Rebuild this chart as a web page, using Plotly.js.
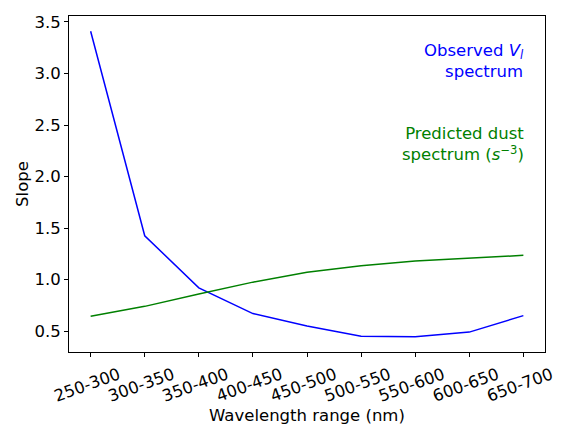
<!DOCTYPE html>
<html>
<head>
<meta charset="utf-8">
<script src="https://cdn.plot.ly/plotly-3.0.1.min.js"></script>
<style>html,body{margin:0;padding:0;background:#fff;}#chart{width:576px;height:432px;}</style>
</head>
<body>
<div id="chart"></div>
<script>
const categories = ["250-300","300-350","350-400","400-450","450-500","500-550","550-600","600-650","650-700"];
const observedVl = [3.41, 1.425, 0.92, 0.67, 0.55, 0.45, 0.445, 0.49, 0.65];
const predictedDust = [0.643, 0.74, 0.86, 0.975, 1.07, 1.135, 1.18, 1.21, 1.235];
const idx = categories.map((c, i) => i);

const font = "DejaVu Sans, sans-serif";
const fs = 16.5;
const traces = [
  {x: idx, y: observedVl, mode: "lines", line: {color: "#0000ff", width: 1.5}, showlegend: false},
  {x: idx, y: predictedDust, mode: "lines", line: {color: "#008000", width: 1.5}, showlegend: false}
];
const axisCommon = {
  showline: true, linecolor: "#000", linewidth: 1, mirror: true, automargin: false,
  ticks: "outside", ticklen: 4, tickcolor: "#000", showgrid: false, zeroline: false,
  tickfont: {family: font, size: fs, color: "#000"}
};
const layout = {
  width: 576, height: 432,
  margin: {l: 69, r: 31, t: 16, b: 80},
  paper_bgcolor: "#fff", plot_bgcolor: "#fff",
  font: {family: font, size: fs, color: "#000"},
  xaxis: Object.assign({}, axisCommon, {
    automargin: true,
    range: [-0.4, 8.4], tickmode: "array", tickvals: idx, ticktext: categories,
    tickangle: -20, ticklabelshift: 28, ticklabelstandoff: 2,
    title: {text: "Wavelength range (nm)", font: {family: font, size: fs, color: "#000"}, standoff: 0}
  }),
  yaxis: Object.assign({}, axisCommon, {
    range: [0.297, 3.558], tickmode: "array",
    tickvals: [0.5, 1.0, 1.5, 2.0, 2.5, 3.0, 3.5],
    ticktext: ["0.5", "1.0", "1.5", "2.0", "2.5", "3.0", "3.5"],
    title: {text: "Slope", font: {family: font, size: fs, color: "#000"}, standoff: 1}
  }),
  annotations: [
    {x: 8, y: 3.12, xref: "x", yref: "y", xanchor: "right", yanchor: "middle", align: "right", xshift: 3,
     showarrow: false, text: "Observed <i>V</i><sub><i>l</i></sub><br>spectrum",
     font: {family: font, size: fs, color: "#0000ff"}},
    {x: 8, y: 2.32, xref: "x", yref: "y", xanchor: "right", yanchor: "middle", align: "right", xshift: 3,
     showarrow: false, text: "Predicted dust<br>spectrum (<i>s</i><sup>−3</sup>)",
     font: {family: font, size: fs, color: "#008000"}}
  ]
};
Plotly.newPlot("chart", traces, layout, {staticPlot: true, displayModeBar: false});
</script>
</body>
</html>
